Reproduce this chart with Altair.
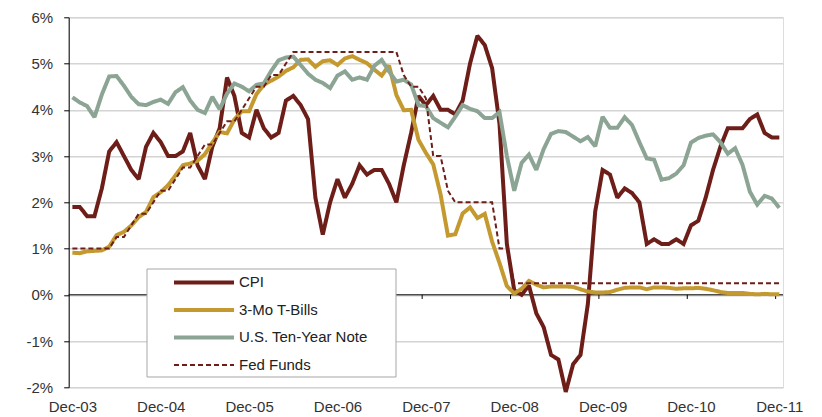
import json
import altair as alt
import pandas as pd

# ---------------- data ----------------
year_labels = ["Dec-03", "Dec-04", "Dec-05", "Dec-06", "Dec-07",
               "Dec-08", "Dec-09", "Dec-10", "Dec-11"]
series_names = ["CPI", "3-Mo T-Bills", "U.S. Ten-Year Note", "Fed Funds"]
series_colors = ["#6E1E19", "#C49A30", "#8BA493", "#6E1E19"]

# monthly, Dec-03 ... Dec-11 (97 points), in percent
cpi = [1.9,
       1.9, 1.7, 1.7, 2.3, 3.1, 3.3, 3.0, 2.7, 2.5, 3.2, 3.5, 3.3,
       3.0, 3.0, 3.1, 3.5, 2.8, 2.5, 3.2, 3.6, 4.7, 4.3, 3.5, 3.4,
       4.0, 3.6, 3.4, 3.5, 4.2, 4.3, 4.1, 3.8, 2.1, 1.3, 2.0, 2.5,
       2.1, 2.4, 2.8, 2.6, 2.7, 2.7, 2.4, 2.0, 2.8, 3.5, 4.3, 4.1,
       4.3, 4.0, 4.0, 3.9, 4.2, 5.0, 5.6, 5.4, 4.9, 3.7, 1.1, 0.1,
       0.0, 0.2, -0.4, -0.7, -1.3, -1.4, -2.1, -1.5, -1.3, -0.2, 1.8, 2.7,
       2.6, 2.1, 2.3, 2.2, 2.0, 1.1, 1.2, 1.1, 1.1, 1.2, 1.1, 1.5,
       1.6, 2.1, 2.7, 3.2, 3.6, 3.6, 3.6, 3.8, 3.9, 3.5, 3.4, 3.4]

tbill = [0.91,
         0.90, 0.94, 0.95, 0.96, 1.04, 1.29, 1.36, 1.50, 1.68, 1.79, 2.11, 2.22,
         2.37, 2.58, 2.80, 2.84, 2.90, 3.04, 3.29, 3.52, 3.49, 3.79, 3.97, 3.97,
         4.34, 4.54, 4.63, 4.72, 4.84, 4.92, 5.08, 5.09, 4.93, 5.05, 5.07, 4.97,
         5.11, 5.16, 5.08, 5.01, 4.87, 4.74, 4.96, 4.32, 3.99, 4.00, 3.35, 3.07,
         2.82, 2.17, 1.28, 1.31, 1.76, 1.89, 1.66, 1.75, 1.15, 0.69, 0.19, 0.03,
         0.13, 0.30, 0.22, 0.16, 0.18, 0.18, 0.18, 0.17, 0.12, 0.07, 0.05, 0.05,
         0.06, 0.11, 0.15, 0.16, 0.16, 0.12, 0.16, 0.16, 0.15, 0.13, 0.14, 0.14,
         0.15, 0.13, 0.10, 0.06, 0.04, 0.04, 0.04, 0.02, 0.01, 0.02, 0.01, 0.01]

ten_year = [4.27,
            4.16, 4.08, 3.84, 4.33, 4.72, 4.73, 4.52, 4.28, 4.12, 4.10, 4.17, 4.22,
            4.13, 4.38, 4.49, 4.20, 4.00, 3.93, 4.28, 4.01, 4.35, 4.57, 4.50, 4.40,
            4.54, 4.57, 4.84, 5.07, 5.13, 5.15, 4.97, 4.78, 4.65, 4.58, 4.47, 4.74,
            4.83, 4.65, 4.70, 4.65, 4.95, 5.08, 4.83, 4.61, 4.65, 4.55, 4.10, 4.08,
            3.82, 3.72, 3.62, 3.85, 4.10, 4.02, 3.97, 3.82, 3.82, 3.95, 3.00, 2.25,
            2.85, 3.03, 2.70, 3.15, 3.48, 3.54, 3.52, 3.42, 3.32, 3.41, 3.21, 3.85,
            3.61, 3.61, 3.84, 3.67, 3.30, 2.95, 2.92, 2.49, 2.52, 2.62, 2.80, 3.29,
            3.39, 3.44, 3.47, 3.30, 3.05, 3.17, 2.81, 2.23, 1.95, 2.14, 2.08, 1.88]

fed_funds = [1.00,
             1.00, 1.00, 1.00, 1.00, 1.00, 1.25, 1.25, 1.50, 1.75, 1.75, 2.00, 2.25,
             2.25, 2.50, 2.75, 2.75, 3.00, 3.25, 3.25, 3.50, 3.75, 3.75, 4.00, 4.25,
             4.50, 4.50, 4.75, 4.75, 5.00, 5.25, 5.25, 5.25, 5.25, 5.25, 5.25, 5.25,
             5.25, 5.25, 5.25, 5.25, 5.25, 5.25, 5.25, 5.25, 4.75, 4.50, 4.50, 4.25,
             3.00, 3.00, 2.25, 2.00, 2.00, 2.00, 2.00, 2.00, 2.00, 1.00, 1.00, 0.25,
             0.25, 0.25, 0.25, 0.25, 0.25, 0.25, 0.25, 0.25, 0.25, 0.25, 0.25, 0.25,
             0.25, 0.25, 0.25, 0.25, 0.25, 0.25, 0.25, 0.25, 0.25, 0.25, 0.25, 0.25,
             0.25, 0.25, 0.25, 0.25, 0.25, 0.25, 0.25, 0.25, 0.25, 0.25, 0.25, 0.25]

months = pd.date_range("2003-12-01", periods=len(cpi), freq="MS").strftime("%b-%y")

rows = []
for name, vals in zip(series_names, [cpi, tbill, ten_year, fed_funds]):
    for i, v in enumerate(vals):
        rows.append({"m": i, "month": months[i], "series": name, "value": v})
df = pd.DataFrame(rows)

year_idx = [12 * k for k in range(len(year_labels))]
tick_df = pd.DataFrame({"m": [v - 0.5 for v in year_idx[1:]]})
tick_df["y"] = 0.0
tick_df["y2"] = -0.09

FONT = "Liberation Sans"
TXT = "#333333"

x_scale = alt.Scale(domain=[-0.5, len(cpi) - 0.5], nice=False, zero=False)
y_scale = alt.Scale(domain=[-2, 6], nice=False, zero=False)

legend = alt.Legend(
    title=None, orient="none", legendX=103.3, legendY=255.2,
    symbolType="stroke", symbolSize=3600, symbolOffset=0,
    clipHeight=20, rowPadding=7.5, padding=0,
    labelFont=FONT, labelFontSize=15, labelColor="#222222", labelOffset=3,
)

lines = alt.Chart(df).mark_line(strokeJoin="miter", strokeMiterLimit=2).encode(
    x=alt.X("m:Q", scale=x_scale,
            axis=alt.Axis(values=year_idx, title=None, grid=False, domain=False,
                          ticks=False, tickSize=0, labelPadding=12,
                          labelExpr=json.dumps(year_labels) + "[round(datum.value/12)]",
                          labelFont=FONT, labelFontSize=15, labelColor=TXT,
                          labelOverlap=False, labelFlush=False)),
    y=alt.Y("value:Q", scale=y_scale,
            axis=alt.Axis(values=list(range(-2, 7)), title=None,
                          labelExpr="datum.value + '%'",
                          grid=True, gridColor="#d4d4d4", gridWidth=1.5,
                          domain=True, domainColor="#000000", domainWidth=1,
                          ticks=True, tickColor="#000000", tickSize=5, tickWidth=1,
                          labelPadding=11, labelFont=FONT, labelFontSize=15,
                          labelColor=TXT)),
    color=alt.Color("series:N", scale=alt.Scale(domain=series_names, range=series_colors),
                    legend=legend),
    strokeDash=alt.StrokeDash("series:N",
                              scale=alt.Scale(type="ordinal", domain=series_names,
                                              range=[[1, 0], [1, 0], [1, 0], [5, 3]]),
                              legend=legend),
    strokeWidth=alt.StrokeWidth("series:N",
                                scale=alt.Scale(type="ordinal", domain=series_names,
                                                range=[4, 4, 4, 2]),
                                legend=legend),
    detail="series:N",
)

zero_line = alt.Chart(pd.DataFrame({"y": [0.0]})).mark_rule(
    color="#000000", strokeWidth=1).encode(y=alt.Y("y:Q", scale=y_scale))

zero_ticks = alt.Chart(tick_df).mark_rule(color="#000000", strokeWidth=1).encode(
    x=alt.X("m:Q", scale=x_scale), y=alt.Y("y:Q", scale=y_scale), y2="y2:Q")

legend_box = alt.Chart(pd.DataFrame({"a": [0]})).mark_rect(
    fill="white", stroke="#a6a6a6", strokeWidth=1).encode(
    x=alt.value(78.3), x2=alt.value(327.3), y=alt.value(251.7), y2=alt.value(359.7))

chart = alt.layer(zero_line, zero_ticks, legend_box, lines).properties(
    width=714.3, height=370,
    autosize=alt.AutoSizeParams(type="none"),
    padding={"left": 60.7, "top": 9.3, "right": 25, "bottom": 29},
).configure_view(stroke=None).configure(background="white")

chart.save("out.html", embed_options={"renderer": "svg", "actions": False})
